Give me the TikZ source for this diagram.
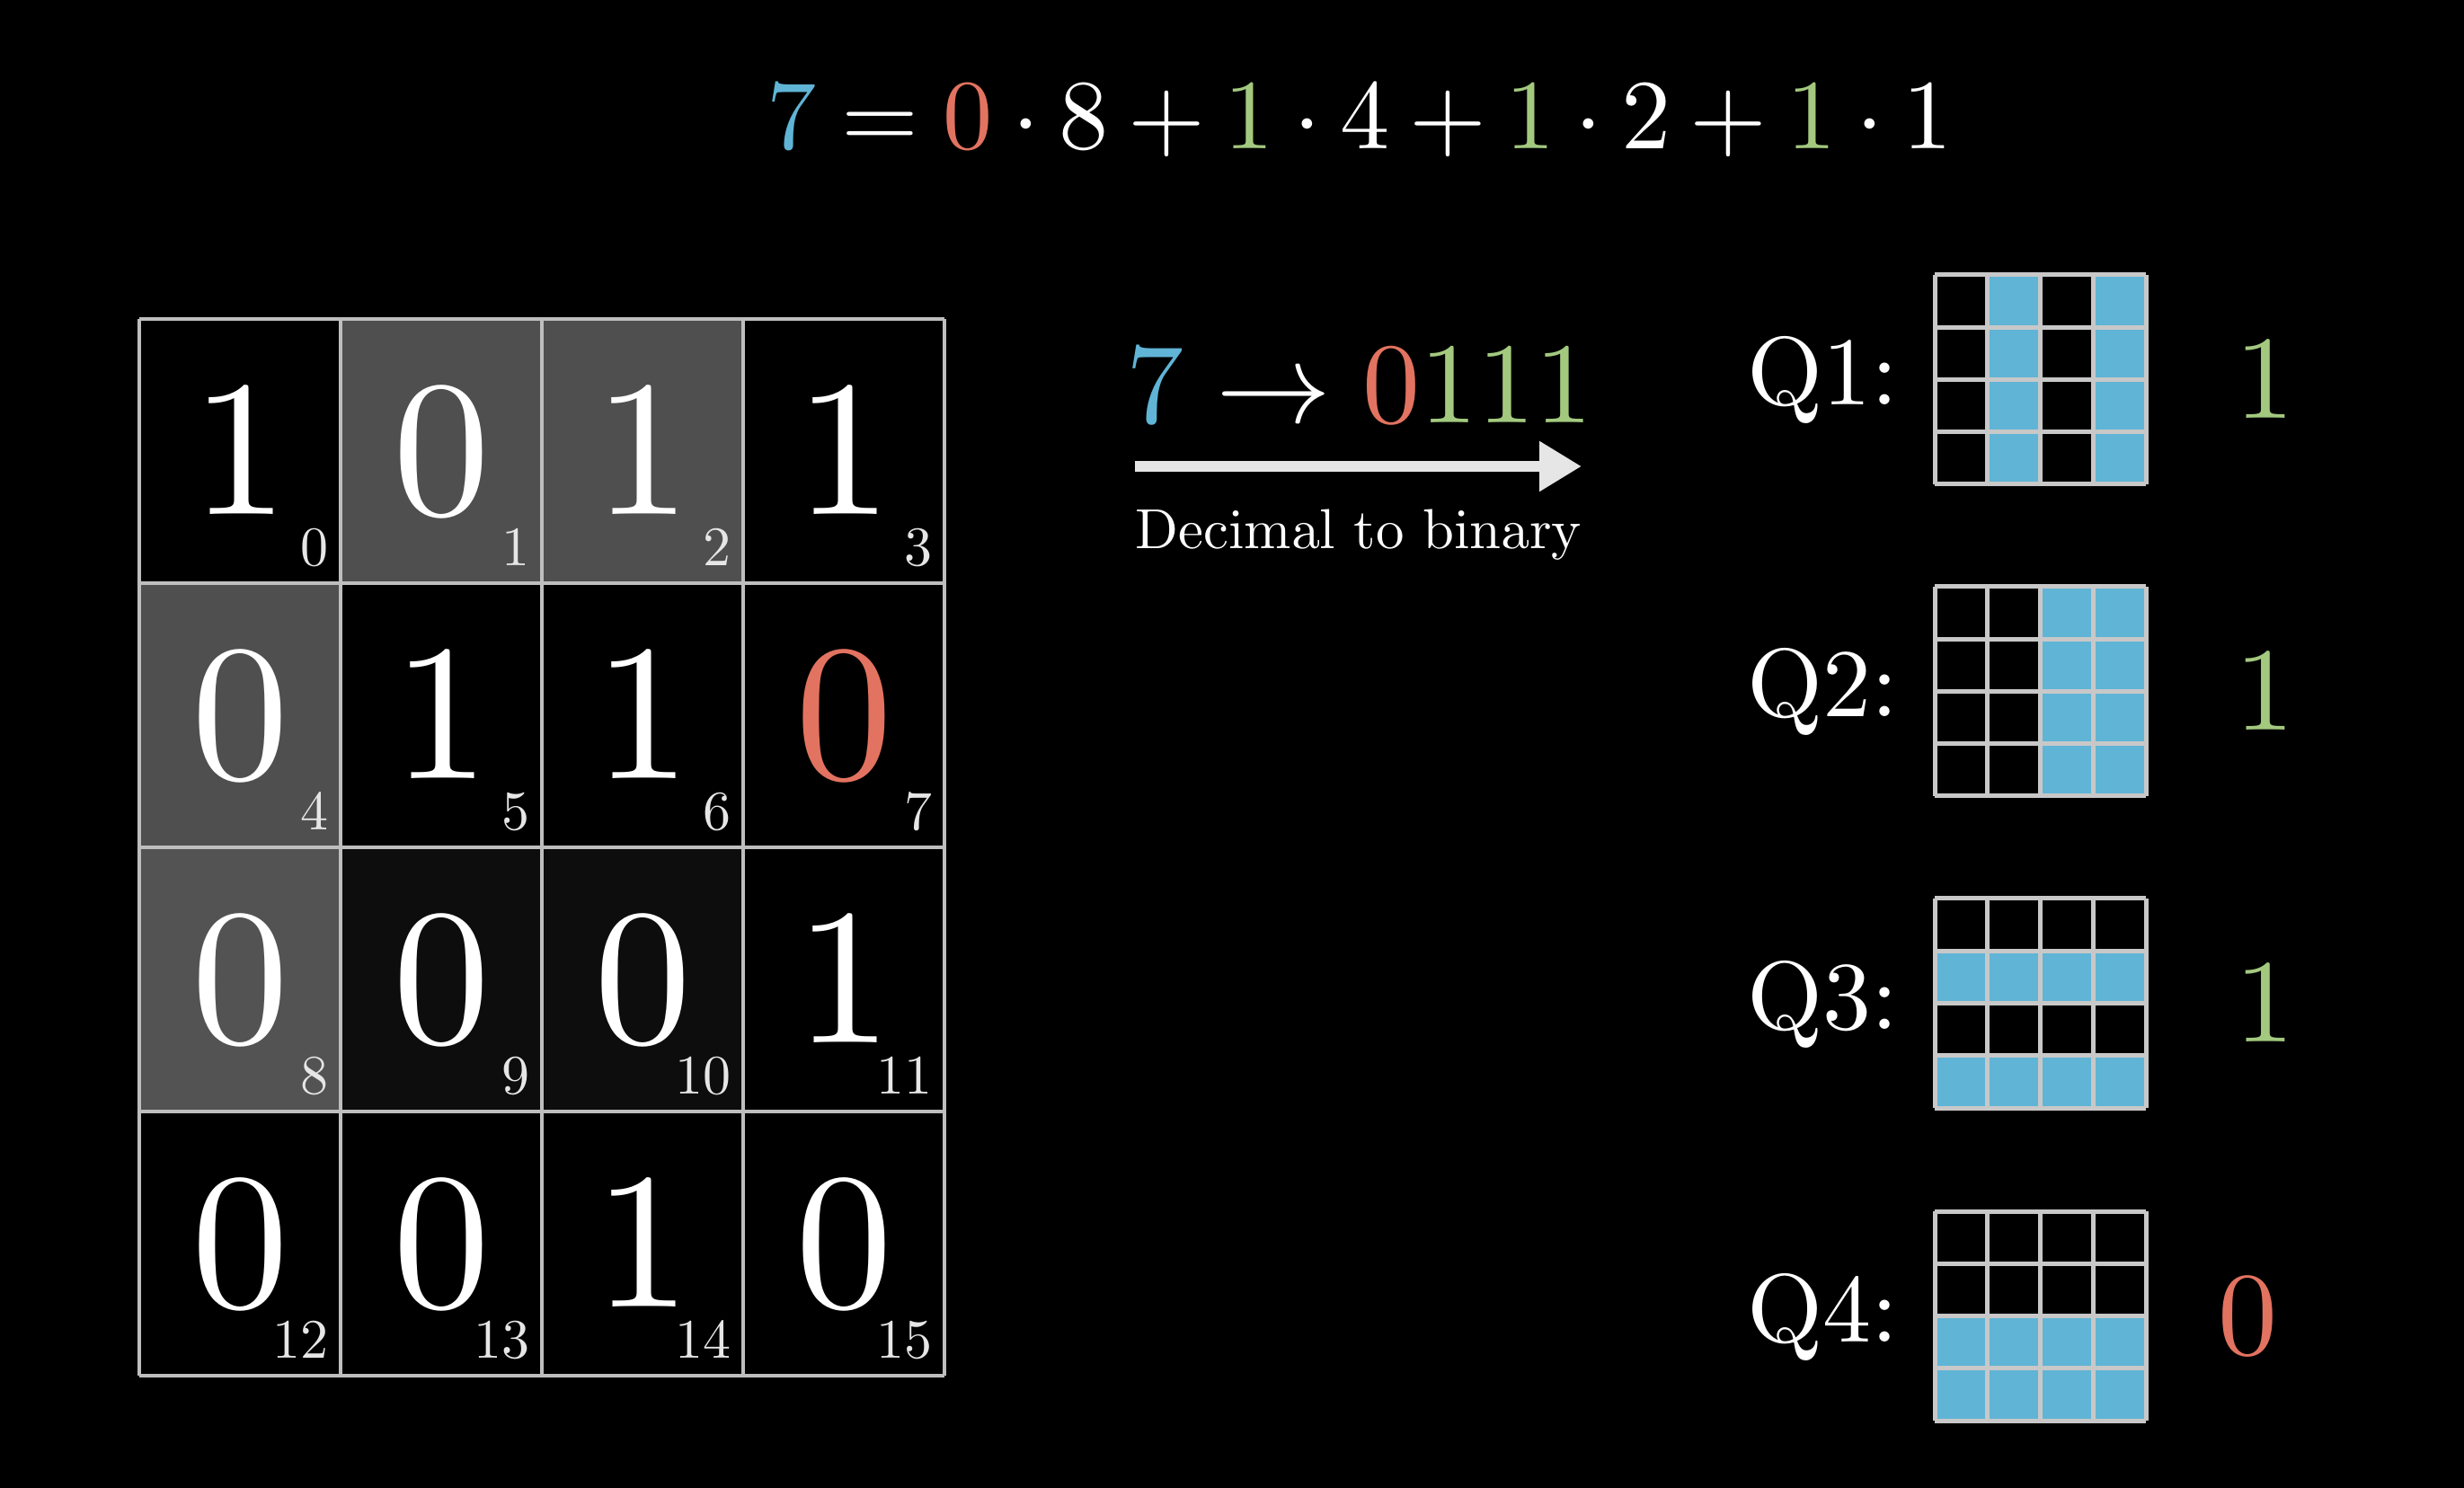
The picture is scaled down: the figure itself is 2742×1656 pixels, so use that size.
\documentclass[tikz,border=0pt]{standalone}
\usepackage{fix-cm}
\usetikzlibrary{arrows.meta}
\DeclareFontFamily{OT1}{cmten}{}
\DeclareFontShape{OT1}{cmten}{m}{n}{<->cmr10}{}
\DeclareSymbolFont{operators}{OT1}{cmten}{m}{n}
\newcommand\cmten{\fontencoding{OT1}\fontfamily{cmten}\fontseries{m}\fontshape{n}\selectfont}
\definecolor{qblue}{HTML}{60B4D6}
\definecolor{qred}{HTML}{E27360}
\definecolor{qgreen}{HTML}{A3C97F}
\definecolor{gline}{HTML}{BEBEBE}
\definecolor{sline}{HTML}{C8C8C8}
\definecolor{gcell}{HTML}{4F4F4F}
\definecolor{hcell}{HTML}{535353}
\definecolor{dcell}{HTML}{0D0D0D}
\definecolor{idxc}{HTML}{E6E6E6}
\definecolor{arrc}{HTML}{E6E6E6}
\begin{document}
\begin{tikzpicture}[x=0.25pt,y=-0.25pt,
  bigdigit/.style={inner sep=0pt,font=\fontsize{54}{58}\cmten},
  idx/.style={inner sep=0pt,anchor=south east,text=idxc,font=\fontsize{15.5}{18}\cmten},
  gl/.style={draw=gline,line width=1.125pt},
  sl/.style={draw=sline,line width=1.25pt},
  qlab/.style={inner sep=0pt,anchor=base west,text=white,font=\fontsize{27}{30}\cmten},
  qval/.style={inner sep=0pt,font=\fontsize{33}{36}\cmten},
  eqn/.style={inner sep=0pt,anchor=base,text=white,font=\fontsize{27.6}{30}\cmten},
  arr/.style={draw=arrc,line width=3pt,-{Triangle[length=11.75pt,width=13.25pt]}}]
\fill[black] (0,0) rectangle (2742,1656);
\useasboundingbox (0,0) rectangle (2742,1656);
% equation
\node[eqn] (eq) at (1513,166) {$\medmuskip=3.5mu\thickmuskip=4.5mu
  {\color{qblue}7}={\color{qred}0}\cdot 8+{\color{qgreen}1}\cdot 4+{\color{qgreen}1}\cdot 2+{\color{qgreen}1}\cdot 1$};
% big grid
\foreach \v/\fc/\tc [count=\i from 0] in {
  1/black/white, 0/gcell/white, 1/gcell/white, 1/black/white,
  0/gcell/white, 1/black/white, 1/black/white, 0/black/qred,
  0/hcell/white, 0/dcell/white, 0/dcell/white, 1/black/white,
  0/black/white, 0/black/white, 1/black/white, 0/black/white}{
  \pgfmathtruncatemacro\cc{mod(\i,4)}
  \pgfmathtruncatemacro\rr{div(\i,4)}
  \fill[\fc] (155+224*\cc,355+294*\rr) rectangle ++(224,294);
  \node[bigdigit,text=\tc] (c\i) at (267+224*\cc,503+294*\rr) {\v};
  \node[idx] (i\i) at (366+224*\cc,630+294*\rr) {\i};
}
\foreach \k in {0,...,4}{
  \draw[gl] (155+224*\k,355) -- (155+224*\k,1531);
  \draw[gl] (155,355+294*\k) -- (1051,355+294*\k);
}
% decimal to binary
\node[inner sep=0pt,anchor=base,text=white,font=\fontsize{32}{36}\cmten] (bin) at (1513,471)
  {${\color{qblue}7}\to{\color{qred}0}{\color{qgreen}111}$};
\coordinate (as) at (1263,519);
\coordinate (ae) at (1760,519);
\draw[arr] (as) -- (ae);
\node[inner sep=0pt,anchor=base,text=white,font=\fontsize{15.7}{18}\cmten] (dec) at (1512,611) {Decimal to binary};
% small grids
\fill[qblue] (2153+58.75,306) rectangle ++(58.75,233);
\fill[qblue] (2153+176.25,306) rectangle ++(58.75,233);
\fill[qblue] (2153+117.5,653) rectangle ++(117.5,233);
\fill[qblue] (2153,1000+58.25) rectangle ++(235,58.25);
\fill[qblue] (2153,1000+174.75) rectangle ++(235,58.25);
\fill[qblue] (2153,1348+116.5) rectangle ++(235,116.5);
\foreach \t in {306,653,1000,1348}{
  \foreach \k in {0,...,4}{
    \draw[sl] (2153+58.75*\k,\t) -- (2153+58.75*\k,\t+233);
    \draw[sl] (2153,\t+58.25*\k) -- (2388,\t+58.25*\k);
  }
}
\foreach \n/\t/\val/\vc/\vx in {1/306/1/qgreen/2520, 2/653/1/qgreen/2520, 3/1000/1/qgreen/2520, 4/1348/0/qred/2501}{
  \node[qlab] (q\n) at (1944,\t+145) {Q\n:};
  \node[qval,text=\vc] (v\n) at (\vx,\t+116.5) {\val};
}
\end{tikzpicture}
\end{document}
